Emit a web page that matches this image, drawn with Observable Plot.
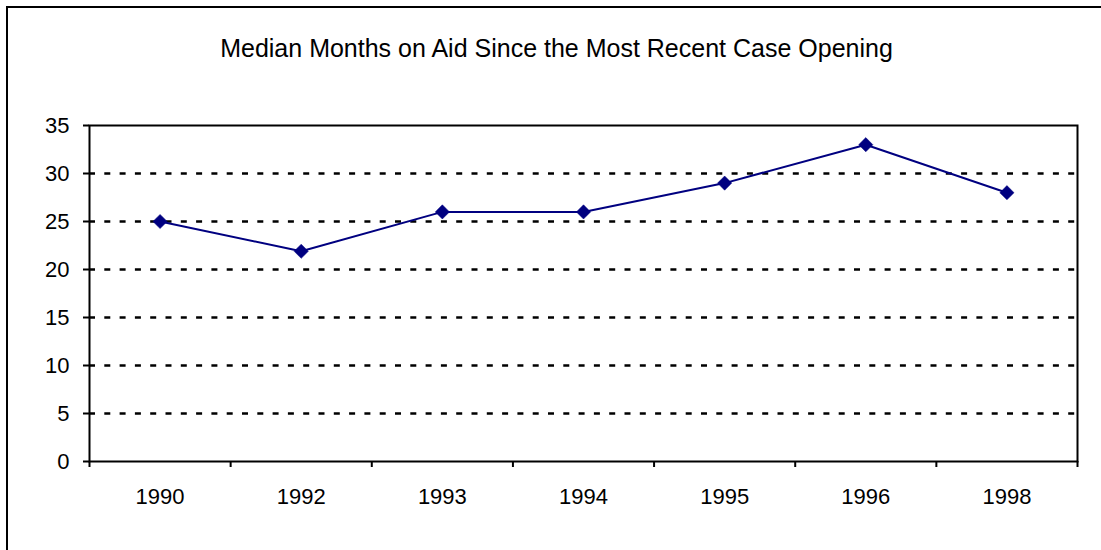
<!DOCTYPE html>
<html>
<head>
<meta charset="utf-8">
<script src="https://cdn.jsdelivr.net/npm/d3@7"></script>
<script src="https://cdn.jsdelivr.net/npm/@observablehq/plot@0.6"></script>
<style>
  html, body { margin: 0; padding: 0; background: #fff; }
  #wrap { position: relative; width: 1101px; height: 550px; overflow: hidden; background: #fff; }
  #border { position: absolute; left: 6px; top: 6px; width: 1200px; height: 700px;
    border-left: 2px solid #000; border-top: 2px solid #000; }
  #title { position: absolute; left: 6px; top: 34px; width: 1101px; text-align: center;
    font-family: "Liberation Sans", Arial, sans-serif; font-size: 25px; color: #000; line-height: 28px; }
  #chart { position: absolute; left: 0; top: 0; }
</style>
</head>
<body>
<div id="wrap">
  <div id="border"></div>
  <div id="title">Median Months on Aid Since the Most Recent Case Opening</div>
  <div id="chart"></div>
</div>
<script>
const years = ["1990", "1992", "1993", "1994", "1995", "1996", "1998"];
const months = [25, 21.9, 26, 26, 29, 33, 28];
const yTicks = [0, 5, 10, 15, 20, 25, 30, 35];

const data = years.map((y, i) => ({year: y, idx: i + 0.5, value: months[i]}));
const boundaries = d3.range(years.length + 1);
const centers = years.map((y, i) => i + 0.5);

const plot = Plot.plot({
  width: 1101,
  height: 550,
  marginLeft: 89,
  marginRight: 24,
  marginTop: 125,
  marginBottom: 89,
  style: {fontFamily: "'Liberation Sans', Arial, sans-serif", fontSize: "22px", color: "#000", background: "transparent", overflow: "visible"},
  x: {type: "linear", domain: [0, years.length]},
  y: {domain: [0, 35]},
  marks: [
    Plot.gridY(yTicks.filter(t => t > 0 && t < 35), {stroke: "#000", strokeOpacity: 1, strokeWidth: 2.5, strokeDasharray: "6,9.3"}),
    Plot.frame({stroke: "#000", strokeWidth: 2}),
    Plot.axisY(yTicks, {tickSize: 6, tickPadding: 14, stroke: "#000", strokeWidth: 2, label: null, fontSize: 22}),
    Plot.axisX(boundaries, {tickSize: 6, tickFormat: () => "", stroke: "#000", strokeWidth: 2, label: null}),
    Plot.axisX(centers, {tickSize: 0, tickPadding: 27, tickFormat: (d) => years[Math.floor(d)], label: null, fontSize: 22}),
    Plot.line(data, {x: "idx", y: "value", stroke: "#000080", strokeWidth: 2}),
    Plot.dot(data, {x: "idx", y: "value", symbol: "diamond2", r: 6.4, fill: "#000080", stroke: "#000080", strokeWidth: 0.5})
  ]
});
document.getElementById("chart").appendChild(plot);
</script>
</body>
</html>
